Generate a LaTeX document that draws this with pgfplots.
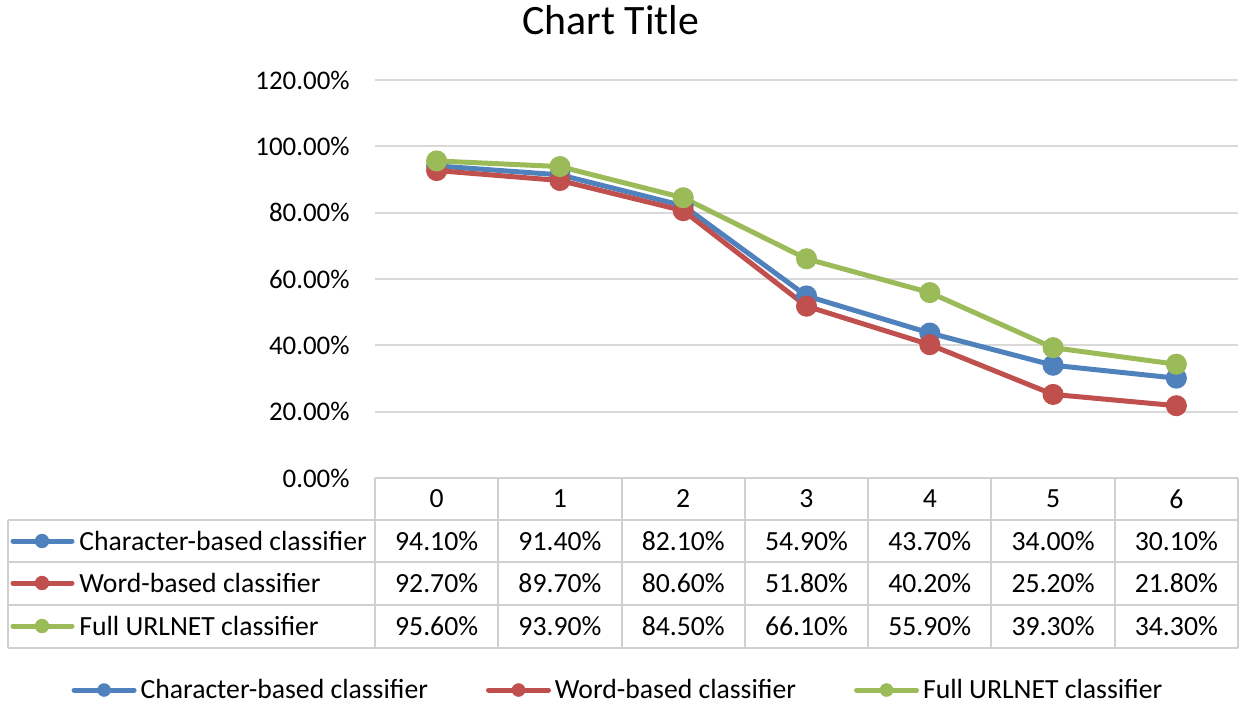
\documentclass[border=0pt]{standalone}
\usepackage{pgfplots}
\pgfplotsset{compat=1.18}
\usepackage{fontspec}
\setmainfont{Carlito}
\definecolor{cblue}{HTML}{4F81BD}
\definecolor{cred}{HTML}{C0504D}
\definecolor{cgreen}{HTML}{9BBB59}
\definecolor{gridc}{HTML}{D9D9D9}
\definecolor{tabc}{HTML}{D0D0D0}
\newcommand{\tf}{\fontsize{13.9}{16.5}\selectfont}
\newcommand{\yf}{\fontsize{13.5}{16}\selectfont}
\begin{document}
\begin{tikzpicture}[x=1bp,y=1bp]
\path[use as bounding box] (0,0) rectangle (621.5,351.5);
\begin{axis}[
  at={(187.5bp,112.5bp)}, anchor=south west, scale only axis,
  width=431.5bp, height=199bp,
  xmin=-0.5, xmax=6.5, ymin=0, ymax=120,
  ytick={0,20,...,120}, xtick={0,...,6},
  axis line style={draw=none},
  major tick length=0pt,
  ymajorgrids, grid style={gridc, line width=1bp},
  /pgf/number format/assume math mode=true,
  yticklabel={\pgfmathprintnumber[fixed,fixed zerofill,precision=2]{\tick}\%},
  yticklabel style={font=\yf, inner sep=0pt, anchor=east, xshift=-12.5bp},
  xticklabel style={font=\tf, inner sep=0pt, anchor=center, yshift=-10.5bp},
  clip=false,
  legend columns=3,
  legend style={draw=none, fill=none, font=\tf, at={(0.2827,-0.5327)}, anchor=center,
    /tikz/every even column/.append style={column sep=27bp}},
  legend image code/.code={\draw[#1,mark=none,line cap=round] (0bp,0bp) -- (30bp,0bp); \fill[#1,draw=none] (15bp,0bp) circle (3.4bp);},
  every axis plot/.append style={line width=2.5bp, mark=*, mark size=4bp},
]
\addplot[cblue, mark options={fill=cblue}] coordinates {(0,94.1) (1,91.4) (2,82.1) (3,54.9) (4,43.7) (5,34.0) (6,30.1)};
\addlegendentry{Character-based classifier}
\addplot[cred, mark options={fill=cred}] coordinates {(0,92.7) (1,89.7) (2,80.6) (3,51.8) (4,40.2) (5,25.2) (6,21.8)};
\addlegendentry{Word-based classifier}
\addplot[cgreen, mark options={fill=cgreen}] coordinates {(0,95.6) (1,93.9) (2,84.5) (3,66.1) (4,55.9) (5,39.3) (6,34.3)};
\addlegendentry{Full URLNET classifier}
\end{axis}
% title
\node[font=\fontsize{21}{25}\selectfont] at (305.5,341.5) {Chart Title};
% data table
\begin{scope}[draw=tabc, line width=1bp]
\draw (187.5,112.5) -- (619,112.5);
\draw (4,91.5) -- (619,91.5);
\draw (4,70.5) -- (619,70.5);
\draw (4,49) -- (619,49);
\draw (4,27.5) -- (619,27.5);
\draw (4,91.5) -- (4,27.5);
\foreach \k in {0,...,7} {\draw ({187.5+61.643*\k},112.5) -- ({187.5+61.643*\k},27.5);}
\end{scope}
% row icons
\draw[cblue, line width=2.5bp, line cap=round] (6.5,81) -- (36,81); \fill[cblue] (21,81) circle (3.6bp);
\draw[cred, line width=2.5bp, line cap=round] (6.5,60) -- (36,60); \fill[cred] (21,60) circle (3.6bp);
\draw[cgreen, line width=2.5bp, line cap=round] (6.5,38.5) -- (36,38.5); \fill[cgreen] (21,38.5) circle (3.6bp);
\node[font=\tf, anchor=west, inner sep=0pt] at (39.5,81) {Character-based classifier};
\node[font=\tf, anchor=west, inner sep=0pt] at (39.5,60) {Word-based classifier};
\node[font=\tf, anchor=west, inner sep=0pt] at (39.5,38.5) {Full URLNET classifier};
\foreach \v [count=\i from 0] in {94.10,91.40,82.10,54.90,43.70,34.00,30.10} {\node[font=\tf] at ({187.5+61.643*(\i+0.5)},81) {\v\%};}
\foreach \v [count=\i from 0] in {92.70,89.70,80.60,51.80,40.20,25.20,21.80} {\node[font=\tf] at ({187.5+61.643*(\i+0.5)},60) {\v\%};}
\foreach \v [count=\i from 0] in {95.60,93.90,84.50,66.10,55.90,39.30,34.30} {\node[font=\tf] at ({187.5+61.643*(\i+0.5)},38.5) {\v\%};}
\end{tikzpicture}
\end{document}
